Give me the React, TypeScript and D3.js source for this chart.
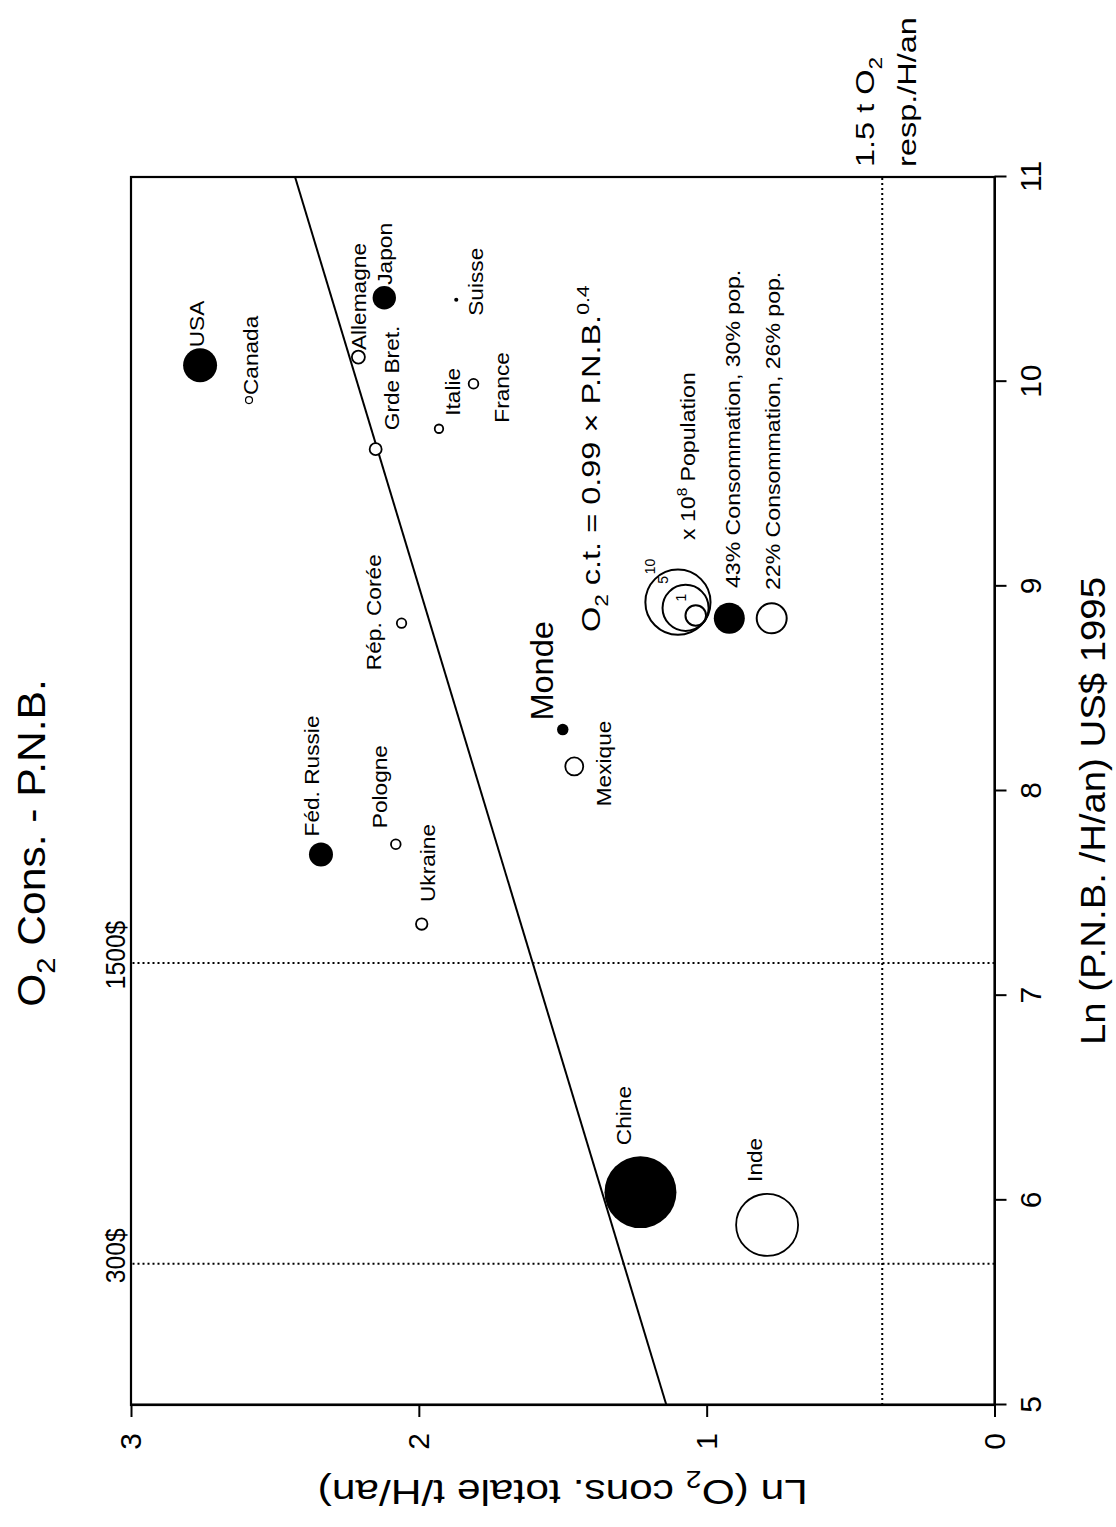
import React, { useEffect, useRef } from 'react';
import * as d3 from 'd3';

const W = 1116;
const H = 1527;
const FONT = '"Liberation Sans", Arial, Helvetica, sans-serif';

// values: ln(PNB/H/an), ln(O2 cons. totale t/H/an), population x 10^8
const countries = ['USA', 'Canada', 'Allemagne', 'Japon', 'Suisse', 'France', 'Italie', 'Grde Bret.', 'Rép. Corée', 'Féd. Russie', 'Pologne', 'Ukraine', 'Monde', 'Mexique', 'Chine', 'Inde'];
const lnPnb = [10.08, 9.91, 10.12, 10.41, 10.40, 9.99, 9.77, 9.67, 8.82, 7.69, 7.74, 7.35, 8.30, 8.12, 6.04, 5.88];
const lnO2 = [2.76, 2.59, 2.21, 2.12, 1.87, 1.81, 1.93, 2.15, 2.06, 2.34, 2.08, 1.99, 1.50, 1.46, 1.23, 0.79];
const population = [2.72, 0.115, 0.40, 1.29, 0.04, 0.22, 0.17, 0.34, 0.21, 1.36, 0.22, 0.31, 0.31, 0.76, 12.2, 9.06];
const filled = [true, false, false, true, true, false, false, false, false, true, false, false, true, false, true, false];

const xTicks = [5, 6, 7, 8, 9, 10, 11];
const yTicks = [0, 1, 2, 3];
const fitLine: [number, number][] = [[5, 1.14], [11, 2.43]];
const incomeLines = [5.69, 7.16];
const incomeLabels = ['300$', '1500$'];
const respLine = 0.39;
const legendPop = [10, 5, 1];

// label placement (local, unrotated frame): dx, dy from the point, anchor
const labelOffset: Record<string, [number, number, string?]> = {
  'USA': [18, 4],
  'Canada': [5, 9],
  'Allemagne': [7, 8],
  'Japon': [13, 7.5],
  'Suisse': [-16, 27],
  'France': [-39, 35],
  'Italie': [13, 21],
  'Grde Bret.': [19, 23],
  'Rép. Corée': [-47, -21],
  'Féd. Russie': [18, -2],
  'Pologne': [16, -9],
  'Ukraine': [22, 13],
  'Monde': [9, -10],
  'Mexique': [3, 37, 'middle'],
  'Chine': [47, -9],
  'Inde': [43, -5],
};

const Txt = ({ x, y, size, sx = 1, anchor = 'start', rot = 0, children }: any) => (
  <text
    transform={`translate(${x},${y}) rotate(${rot}) scale(${sx},1)`}
    fontSize={size}
    textAnchor={anchor}
    fill="#000"
  >
    {children}
  </text>
);

const App: React.FC = () => {
  const xAxisRef = useRef<SVGGElement>(null);
  const yAxisRef = useRef<SVGGElement>(null);

  const x = d3.scaleLinear().domain([5, 11]).range([122, 1350]);
  const y = d3.scaleLinear().domain([0, 3]).range([994.5, 131]);
  const r = d3.scaleSqrt().domain([0, 1]).range([0, 10.3]);
  const line = d3.line<[number, number]>().x(d => x(d[0])).y(d => y(d[1]));

  useEffect(() => {
    if (!xAxisRef.current || !yAxisRef.current) return;
    const gx = d3.select(xAxisRef.current);
    gx.selectAll('*').remove();
    gx.call(d3.axisBottom(x).tickValues(xTicks).tickSize(12).tickSizeOuter(0).tickPadding(13).tickFormat(d3.format('d')));
    const gy = d3.select(yAxisRef.current);
    gy.selectAll('*').remove();
    gy.call(d3.axisLeft(y).tickValues(yTicks).tickSize(12).tickSizeOuter(0).tickPadding(16).tickFormat(d3.format('d')));
    [gx, gy].forEach(g => {
      g.attr('font-family', FONT);
      g.selectAll('text').attr('font-size', 30).attr('fill', '#000');
      g.selectAll('line').attr('stroke', '#000').attr('stroke-width', 2);
      g.select('.domain').attr('stroke', '#000').attr('stroke-width', 2);
    });
  }, []);

  const tangent = { lx: 905.3, ly: 704 };

  return (
    <svg width={W} height={H} style={{ position: 'absolute', left: 0, top: 0 }} fontFamily={FONT}>
      <rect width={W} height={H} fill="#fff" />
      <g transform={`translate(0,${H}) rotate(-90)`}>
        {/* frame */}
        <rect x={x(5)} y={y(3)} width={x(11) - x(5)} height={y(0) - y(3)} fill="none" stroke="#000" strokeWidth={2.2} />

        {/* reference lines */}
        {incomeLines.map((v, i) => (
          <g key={i}>
            <line x1={x(v)} x2={x(v)} y1={y(0)} y2={y(3)} stroke="#000" strokeWidth={2} strokeDasharray="2,3" />
            <Txt x={x(v) + 8} y={125} size={28} sx={0.88} anchor="middle">{incomeLabels[i]}</Txt>
          </g>
        ))}
        <line x1={x(5)} x2={x(11)} y1={y(respLine)} y2={y(respLine)} stroke="#000" strokeWidth={2} strokeDasharray="2,3" />
        <Txt x={x(11) + 10} y={874} size={26} sx={1.25}>
          1.5 t O<tspan dy={8} fontSize={18}>2</tspan>
        </Txt>
        <Txt x={x(11) + 10} y={916} size={26} sx={1.25}>resp./H/an</Txt>

        {/* fit */}
        <path d={line(fitLine) || ''} fill="none" stroke="#000" strokeWidth={2} />

        {/* countries */}
        {countries.map((c, i) => (
          <circle
            key={c}
            cx={x(lnPnb[i])}
            cy={y(lnO2[i])}
            r={r(population[i])}
            fill={filled[i] ? '#000' : '#fff'}
            stroke="#000"
            strokeWidth={filled[i] ? 0 : population[i] < 0.15 ? 1.2 : 1.8}
          />
        ))}
        {countries.map((c, i) => {
          const [dx, dy, anchor] = labelOffset[c];
          const big = c === 'Monde';
          return (
            <Txt key={c} x={x(lnPnb[i]) + dx} y={y(lnO2[i]) + dy} size={big ? 31 : 21} sx={big ? 1.05 : 1.08} anchor={anchor || 'start'}>
              {c}
            </Txt>
          );
        })}

        {/* equation and legend */}
        <Txt x={895} y={600} size={26} sx={1.25}>
          O<tspan dy={8} fontSize={18}>2</tspan>
          <tspan dy={-8}> c.t. = 0.99 × P.N.B.</tspan>
          <tspan dy={-11} fontSize={17}>0.4</tspan>
        </Txt>

        {legendPop.map(p => {
          const R = r(p);
          const cx = tangent.lx + 0.6 * R;
          const cy = tangent.ly - 0.8 * R;
          return (
            <g key={p}>
              <circle cx={cx} cy={cy} r={R} fill="none" stroke="#000" strokeWidth={2} />
              <text x={cx + 0.8 * (R + 12)} y={cy - 0.6 * (R + 12)} fontSize={14} textAnchor="middle" dominantBaseline="middle">
                {p}
              </text>
            </g>
          );
        })}
        <Txt x={987} y={695} size={21} sx={1.1}>
          x 10<tspan dy={-8} fontSize={14}>8</tspan>
          <tspan dy={8}> Population</tspan>
        </Txt>
        <circle cx={908.7} cy={729.3} r={15.5} fill="#000" />
        <Txt x={939} y={740} size={21} sx={1.1}>43% Consommation, 30% pop.</Txt>
        <circle cx={908.7} cy={771.7} r={15} fill="#fff" stroke="#000" strokeWidth={2} />
        <Txt x={937} y={780} size={21} sx={1.1}>22% Consommation, 26% pop.</Txt>

        {/* axes */}
        <g ref={xAxisRef} transform={`translate(0,${y(0)})`} />
        <g ref={yAxisRef} transform={`translate(${x(5)},0)`} />

        {/* titles */}
        <Txt x={684} y={45} size={38} sx={1.12} anchor="middle">
          O<tspan dy={10} fontSize={26}>2</tspan>
          <tspan dy={-10}> Cons. - P.N.B.</tspan>
        </Txt>
        <Txt x={716} y={1105} size={36} sx={1.065} anchor="middle">Ln (P.N.B. /H/an) US$ 1995</Txt>
        <Txt x={47} y={(y(0) + y(3)) / 2} size={36} sx={1.18} rot={-90} anchor="middle">
          Ln (O<tspan dy={9} fontSize={24}>2</tspan>
          <tspan dy={-9}> cons. totale t/H/an)</tspan>
        </Txt>
      </g>
    </svg>
  );
};

export default App;
